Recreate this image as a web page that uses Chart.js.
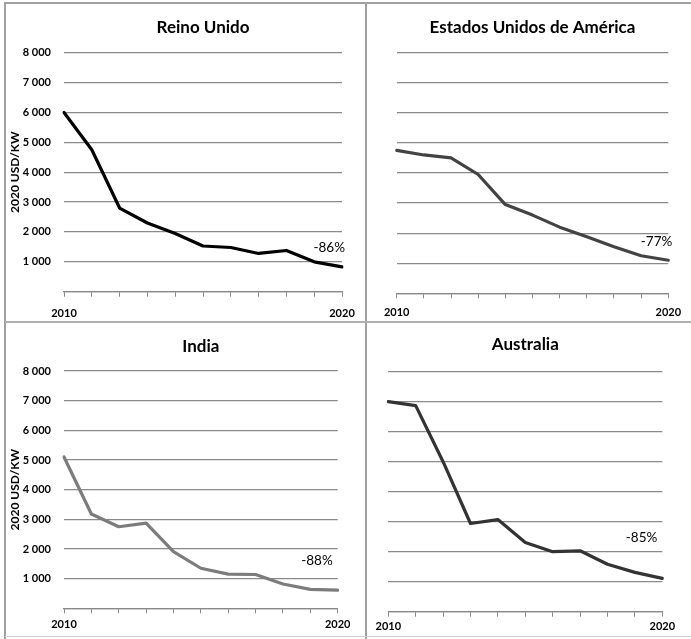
<!DOCTYPE html>
<html>
<head>
<meta charset="utf-8">
<script src="https://cdn.jsdelivr.net/npm/chart.js@4"></script>
<style>
  html, body { margin:0; padding:0; background:#fff; }
  body { width:691px; height:639px; position:relative; overflow:hidden; }
  .panel { position:absolute; }
  .line { position:absolute; background:#a0a0a0; }
</style>
</head>
<body>
<div class="line" style="left:5px;top:2px;width:686px;height:2px;"></div>
<div class="line" style="left:4px;top:2px;width:2px;height:637px;"></div>
<div class="line" style="left:365px;top:2px;width:2px;height:637px;"></div>
<div class="line" style="left:5px;top:321px;width:686px;height:2px;background:#b0b0b0;"></div>
<div class="line" style="left:5px;top:636px;width:686px;height:1px;background:#d0d0d0;"></div>

<div class="panel" style="left:6px;top:4px;width:359px;height:317px;"><canvas id="c1"></canvas></div>
<div class="panel" style="left:367px;top:4px;width:324px;height:317px;"><canvas id="c2"></canvas></div>
<div class="panel" style="left:6px;top:323px;width:359px;height:313px;"><canvas id="c3"></canvas></div>
<div class="panel" style="left:367px;top:323px;width:324px;height:313px;"><canvas id="c4"></canvas></div>

<script>
// ---- data ----
const years = ['2010','2011','2012','2013','2014','2015','2016','2017','2018','2019','2020'];
const ukValues        = [6000, 4750, 2800, 2300, 1950, 1530, 1480, 1280, 1380, 1000, 830];
const usaValues       = [4750, 4600, 4500, 3950, 2950, 2600, 2200, 1880, 1550, 1250, 1100];
const indiaValues     = [5100, 3180, 2750, 2870, 1910, 1350, 1150, 1140, 820, 640, 610];
const australiaValues = [7000, 6870, 5000, 2940, 3070, 2310, 2000, 2030, 1580, 1310, 1110];
const panelTitles  = ['Reino Unido', 'Estados Unidos de América', 'India', 'Australia'];
const changeLabels = ['-86%', '-77%', '-88%', '-85%'];
const yTickValues  = [1000, 2000, 3000, 4000, 5000, 6000, 7000, 8000];
const yTickLabels  = ['1 000', '2 000', '3 000', '4 000', '5 000', '6 000', '7 000', '8 000'];
const shownXLabels = ['2010', '2020'];
const yAxisTitle   = '2020 USD/KW';

const FONT = 'Lato, "Open Sans", "DejaVu Sans", sans-serif';

const panelTextPlugin = {
  id: 'panelText',
  afterDraw(chart, args, opts) {
    const ctx = chart.ctx, ca = chart.chartArea;
    ctx.save();
    ctx.fillStyle = '#000';
    ctx.textAlign = 'center';
    ctx.textBaseline = 'middle';
    ctx.font = 'bold 17px ' + FONT;
    ctx.fillText(opts.title, (ca.left + ca.right) / 2, opts.titleY);
    ctx.font = '13.5px ' + FONT;
    ctx.textAlign = 'right';
    ctx.fillText(opts.note, ca.right + opts.noteDx, opts.noteY);
    ctx.restore();
  }
};

function makeChart(id, cfg) {
  const el = document.getElementById(id);
  const W = el.parentNode.clientWidth, H = el.parentNode.clientHeight;
  el.width = W; el.height = H;
  el.style.width = W + 'px'; el.style.height = H + 'px';
  return new Chart(el, {
    type: 'line',
    data: {
      labels: years,
      datasets: [{
        data: cfg.values,
        borderColor: cfg.color,
        borderWidth: 3.2,
        pointRadius: 0,
        tension: 0,
        borderJoinStyle: 'round',
        borderCapStyle: 'round',
        fill: false
      }]
    },
    options: {
      responsive: false,
      animation: false,
      devicePixelRatio: 1,
      layout: { padding: { top: cfg.top, right: W - cfg.right, left: 0, bottom: 0 } },
      plugins: {
        legend: { display: false },
        tooltip: { enabled: false },
        title: { display: false },
        panelText: { title: cfg.title, titleY: cfg.titleY, note: cfg.note, noteDx: cfg.noteDx, noteY: cfg.noteY }
      },
      scales: {
        x: {
          type: 'category',
          offset: false,
          afterFit(s) { s.height = H - cfg.bottom; },
          grid: { drawOnChartArea: false, drawTicks: true, tickLength: 5, color: '#8a8a8a', lineWidth: 1 },
          border: { display: true, color: '#8a8a8a', width: 1.2 },
          ticks: {
            autoSkip: false, maxRotation: 0, padding: cfg.xPad, color: '#000',
            font: { family: FONT, size: 11, weight: 'bold' },
            callback(v, i) { const l = years[i]; return shownXLabels.includes(l) ? l : ''; }
          }
        },
        y: {
          min: 0, max: 8000,
          afterFit(s) { s.width = cfg.left; },
          afterBuildTicks(s) { s.ticks = [{ value: 0 }].concat(yTickValues.map(v => ({ value: v }))); },
          grid: { drawTicks: false, color: '#8a8a8a', lineWidth: 1.3 },
          border: { display: false },
          title: {
            display: cfg.showY, text: yAxisTitle, color: '#000',
            font: { family: FONT, size: 12, weight: 'bold' }, padding: { top: 2, bottom: 0 }
          },
          ticks: {
            display: cfg.showY, padding: 13, color: '#000',
            font: { family: FONT, size: 11, weight: 'bold' },
            callback(v) { const i = yTickValues.indexOf(v); return i >= 0 ? yTickLabels[i] : ''; }
          }
        }
      }
    },
    plugins: [panelTextPlugin]
  });
}

makeChart('c1', { values: ukValues, color: '#000000', title: panelTitles[0], note: changeLabels[0],
  left: 58, right: 336, top: 48.7, bottom: 287.7, xPad: 10, showY: true,
  titleY: 24, noteDx: 3, noteY: 244 });
makeChart('c2', { values: usaValues, color: '#434343', title: panelTitles[1], note: changeLabels[1],
  left: 29.7, right: 301.3, top: 48.7, bottom: 289.3, xPad: 8, showY: false,
  titleY: 24, noteDx: 4, noteY: 238 });
makeChart('c3', { values: indiaValues, color: '#7c7c7c', title: panelTitles[2], note: changeLabels[2],
  left: 58, right: 331.7, top: 48, bottom: 285.3, xPad: 5, showY: true,
  titleY: 24, noteDx: -5, noteY: 238 });
makeChart('c4', { values: australiaValues, color: '#333333', title: panelTitles[3], note: changeLabels[3],
  left: 21.3, right: 295.3, top: 48.7, bottom: 288.7, xPad: 3, showY: false,
  titleY: 22, noteDx: -5, noteY: 215 });
</script>
</body>
</html>
